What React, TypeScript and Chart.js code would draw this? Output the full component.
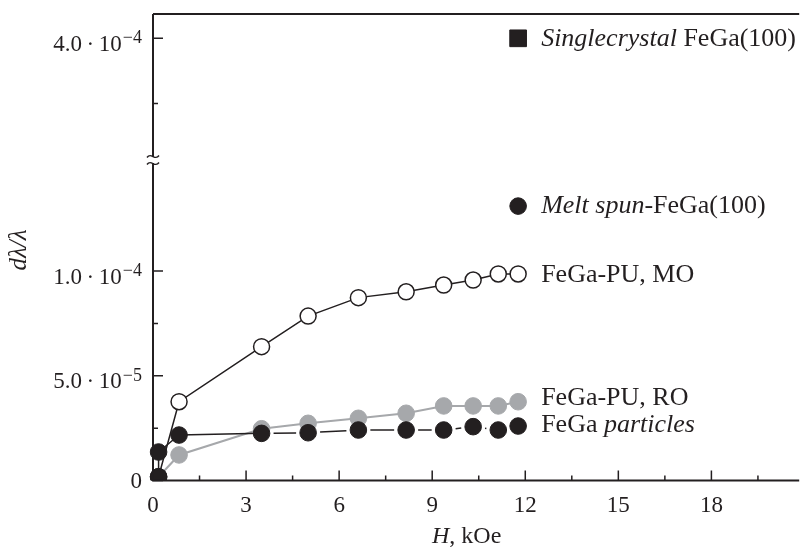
import React, { useEffect, useRef } from "react";
import { Chart, registerables } from "chart.js";

Chart.register(...registerables);

// ---- data (H in kOe, dλ/λ dimensionless) ----
const FIELD_KOE = [0.18, 0.84, 3.5, 5.0, 6.62, 8.16, 9.37, 10.32, 11.13, 11.77];
const PU_MO = [1.8e-6, 3.76e-5, 6.39e-5, 7.85e-5, 8.73e-5, 9.01e-5, 9.33e-5, 9.57e-5, 9.86e-5, 9.86e-5];
const PU_RO = [1.8e-6, 1.22e-5, 2.47e-5, 2.73e-5, 2.97e-5, 3.21e-5, 3.56e-5, 3.56e-5, 3.56e-5, 3.76e-5];
const PARTICLES_FIELD = [0.18, 0.18, 0.84, 3.5, 5.0, 6.62, 8.16, 9.37, 10.32, 11.13, 11.77];
const PARTICLES = [1.8e-6, 1.36e-5, 2.17e-5, 2.25e-5, 2.28e-5, 2.41e-5, 2.41e-5, 2.41e-5, 2.57e-5, 2.41e-5, 2.6e-5];
const REF_FIELD = [11.77];
const SINGLE_CRYSTAL = [4.0e-4];
const MELT_SPUN = [1.31e-4];

// ---- ticks ----
const X_MAJOR = [0, 3, 6, 9, 12, 15, 18];
const X_MAJOR_LABELS = ["0", "3", "6", "9", "12", "15", "18"];
const X_MINOR = [1.5, 4.5, 7.5, 10.5, 13.5, 16.5, 19.5];
const Y_MAJOR = [0, 5e-5, 1e-4, 4e-4];
const Y_MANTISSA = ["0", "5.0", "1.0", "4.0"];
const Y_EXPONENT = ["", "\u22125", "\u22124", "\u22124"];
const Y_MINOR = [2.5e-5, 7.5e-5, 3.5e-4];

// ---- series labels (text parts: [text, italic]) ----
const LABEL_SINGLE: [string, boolean][] = [["Singlecrystal", true], [" FeGa(100)", false]];
const LABEL_MELT: [string, boolean][] = [["Melt spun", true], ["-FeGa(100)", false]];
const LABEL_MO: [string, boolean][] = [["FeGa-PU, MO", false]];
const LABEL_RO: [string, boolean][] = [["FeGa-PU, RO", false]];
const LABEL_PART: [string, boolean][] = [["FeGa ", false], ["particles", true]];

// ---- broken y axis mapping ----
const BREAK_AT = 1.53; // in 1e-4 units (axis units)
function toAxis(v: number): number {
  const w = v / 1e-4;
  return w <= BREAK_AT ? w : 2.111 + (w - 4) * 0.622;
}

const INK = "#231f20";
const GREY = "#a6a8ab";
const SERIF = "'Liberation Serif', 'Times New Roman', serif";

function drawParts(ctx: CanvasRenderingContext2D, x: number, y: number, parts: [string, boolean][], size: number) {
  let cx = x;
  ctx.textAlign = "left";
  ctx.textBaseline = "alphabetic";
  for (const [t, it] of parts) {
    ctx.font = `${it ? "italic " : ""}${size}px ${SERIF}`;
    ctx.fillText(t, cx, y);
    cx += ctx.measureText(t).width;
  }
}

const decorPlugin = {
  id: "decor",
  afterDatasetsDraw(chart: any) {
    const { ctx, chartArea: a, scales } = chart;
    const xs = scales.x;
    const ys = scales.y;
    ctx.save();
    ctx.fillStyle = INK;
    ctx.strokeStyle = INK;

    // spines
    ctx.lineWidth = 2;
    ctx.beginPath();
    ctx.moveTo(a.left, a.top);
    ctx.lineTo(a.right, a.top);
    ctx.moveTo(a.left, a.top);
    ctx.lineTo(a.left, a.bottom);
    ctx.lineTo(a.right, a.bottom);
    ctx.stroke();

    // inward ticks
    ctx.lineWidth = 1.5;
    ctx.beginPath();
    X_MAJOR.forEach((v) => {
      const p = xs.getPixelForValue(v);
      ctx.moveTo(p, a.bottom);
      ctx.lineTo(p, a.bottom - 10);
    });
    X_MINOR.forEach((v) => {
      const p = xs.getPixelForValue(v);
      ctx.moveTo(p, a.bottom);
      ctx.lineTo(p, a.bottom - 5);
    });
    Y_MAJOR.forEach((v) => {
      const p = ys.getPixelForValue(toAxis(v));
      ctx.moveTo(a.left, p);
      ctx.lineTo(a.left + 10, p);
    });
    Y_MINOR.forEach((v) => {
      const p = ys.getPixelForValue(toAxis(v));
      ctx.moveTo(a.left, p);
      ctx.lineTo(a.left + 5, p);
    });
    ctx.stroke();

    // axis break
    const yb = ys.getPixelForValue(BREAK_AT);
    ctx.fillStyle = "#ffffff";
    ctx.fillRect(a.left - 2, yb - 3, 4, 6);
    ctx.strokeStyle = INK;
    ctx.lineWidth = 1.4;
    [yb - 3.5, yb + 3.5].forEach((yy) => {
      ctx.beginPath();
      ctx.moveTo(a.left - 6, yy + 1);
      ctx.bezierCurveTo(a.left - 2, yy - 5, a.left + 2, yy + 5, a.left + 6, yy - 1);
      ctx.stroke();
    });
    ctx.fillStyle = INK;

    // x tick labels
    ctx.font = `23px ${SERIF}`;
    ctx.textAlign = "center";
    ctx.textBaseline = "alphabetic";
    X_MAJOR.forEach((v, i) => {
      ctx.fillText(X_MAJOR_LABELS[i], xs.getPixelForValue(v), a.bottom + 31);
    });

    // y tick labels
    const R = a.left - 11;
    Y_MAJOR.forEach((v, i) => {
      const p = ys.getPixelForValue(toAxis(v));
      ctx.textAlign = "right";
      if (!Y_EXPONENT[i]) {
        ctx.font = `23px ${SERIF}`;
        ctx.fillText(Y_MANTISSA[i], R, p + 7);
        return;
      }
      ctx.font = `18px ${SERIF}`;
      ctx.fillText(Y_EXPONENT[i], R, p + 5);
      const ew = ctx.measureText(Y_EXPONENT[i]).width;
      ctx.font = `23px ${SERIF}`;
      ctx.fillText(Y_MANTISSA[i] + "\u2009\u00b7\u200910", R - ew - 1, p + 12.5);
    });

    // axis titles
    drawParts(ctx, 432, 543, [["H", true], [", kOe", false]], 24);
    ctx.save();
    ctx.translate(26, 250);
    ctx.rotate(-Math.PI / 2);
    ctx.font = `italic 25px ${SERIF}`;
    ctx.textAlign = "center";
    ctx.textBaseline = "alphabetic";
    ctx.fillText("d\u03bb/\u03bb", 0, 0);
    ctx.restore();

    // series labels next to last point
    chart.data.datasets.forEach((ds: any, i: number) => {
      if (!ds.seriesLabel) return;
      const meta = chart.getDatasetMeta(i);
      const last = meta.data[meta.data.length - 1];
      drawParts(ctx, last.x + 23, last.y + ds.labelDy, ds.seriesLabel, 26);
    });
    ctx.restore();
  },
};

const CLIP = { left: 12, top: 20, right: 20, bottom: 0 };

export default function App() {
  const ref = useRef<HTMLCanvasElement | null>(null);
  useEffect(() => {
    document.body.style.margin = "0";
    const canvas = ref.current;
    if (!canvas) return;
    const pts = (xs: number[], ys: number[]) => xs.map((h, i) => ({ x: h, y: toAxis(ys[i]) }));
    const chart = new Chart(canvas, {
      type: "line",
      data: {
        datasets: [
          {
            label: "FeGa particles",
            data: pts(PARTICLES_FIELD, PARTICLES),
            borderColor: INK,
            borderWidth: 1.5,
            pointRadius: 8.3,
            pointBackgroundColor: INK,
            pointBorderColor: INK,
            pointBorderWidth: 1,
            clip: CLIP,
            segment: {
              borderDash: (c: any) => {
                if (c.p0DataIndex < 3) return [];
                const L = Math.hypot(c.p1.x - c.p0.x, c.p1.y - c.p0.y);
                return [0, 12, Math.max(L - 24, 0), 10000];
              },
            },
            seriesLabel: LABEL_PART,
            labelDy: 6,
          } as any,
          {
            label: "FeGa-PU, MO",
            data: pts(FIELD_KOE, PU_MO),
            borderColor: INK,
            borderWidth: 1.5,
            pointRadius: 8,
            pointBackgroundColor: "#ffffff",
            pointBorderColor: INK,
            pointBorderWidth: 1.5,
            clip: CLIP,
            seriesLabel: LABEL_MO,
            labelDy: 8,
          } as any,
          {
            label: "FeGa-PU, RO",
            data: pts(FIELD_KOE, PU_RO),
            borderColor: GREY,
            borderWidth: 2,
            pointRadius: 8.3,
            pointBackgroundColor: GREY,
            pointBorderColor: GREY,
            pointBorderWidth: 1,
            clip: CLIP,
            seriesLabel: LABEL_RO,
            labelDy: 3.5,
          } as any,
          {
            label: "Singlecrystal FeGa(100)",
            data: pts(REF_FIELD, SINGLE_CRYSTAL),
            showLine: false,
            pointStyle: "rect",
            pointRadius: 11.8,
            pointBackgroundColor: INK,
            pointBorderColor: INK,
            pointBorderWidth: 1,
            clip: CLIP,
            seriesLabel: LABEL_SINGLE,
            labelDy: 8,
          } as any,
          {
            label: "Melt spun-FeGa(100)",
            data: pts(REF_FIELD, MELT_SPUN),
            showLine: false,
            pointRadius: 8.3,
            pointBackgroundColor: INK,
            pointBorderColor: INK,
            pointBorderWidth: 1,
            clip: CLIP,
            seriesLabel: LABEL_MELT,
            labelDy: 7,
          } as any,
        ],
      },
      options: {
        animation: false,
        responsive: false,
        devicePixelRatio: 1,
        layout: { padding: { left: 153, top: 14, right: 0, bottom: 67.5 } },
        elements: { line: { tension: 0 } },
        scales: {
          x: { type: "linear", min: 0, max: 20.83, display: false },
          y: { type: "linear", min: 0, max: 2.227, display: false },
        },
        plugins: { legend: { display: false }, tooltip: { enabled: false } },
      },
      plugins: [decorPlugin],
    });
    return () => chart.destroy();
  }, []);
  return (
    <div style={{ position: "fixed", left: 0, top: 0, width: 812, height: 548, background: "#ffffff" }}>
      <canvas ref={ref} width={812} height={548} style={{ display: "block" }} />
    </div>
  );
}
